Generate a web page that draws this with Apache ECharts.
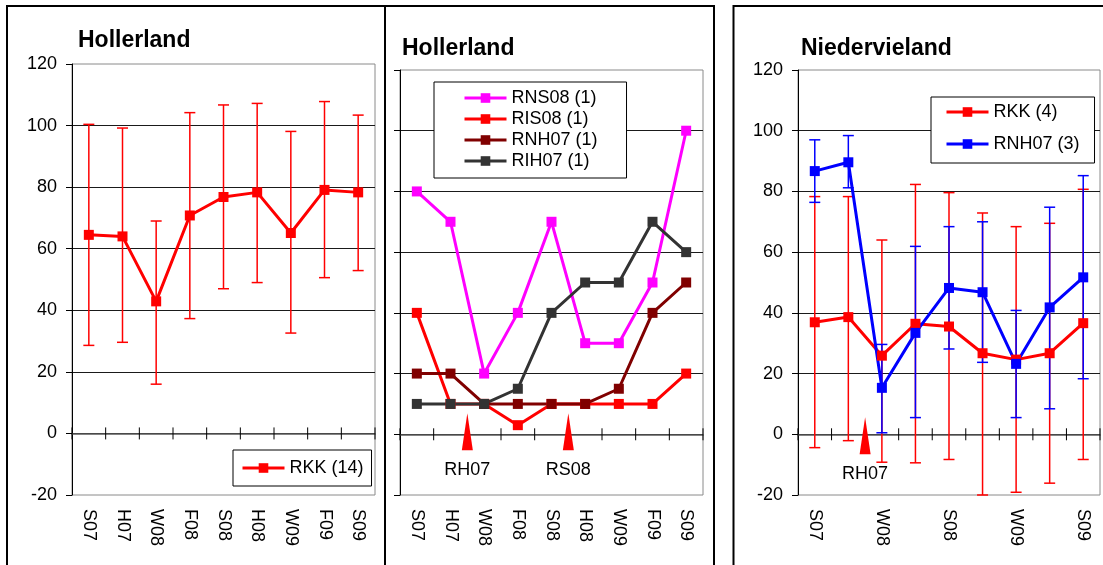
<!DOCTYPE html>
<html>
<head>
<meta charset="utf-8">
<script src="https://cdn.jsdelivr.net/npm/echarts@6/dist/echarts.min.js"></script>
<style>
  html, body { margin: 0; padding: 0; background: #fff; }
  #chart { width: 1103px; height: 565px; }
</style>
</head>
<body>
<div id="chart"></div>
<script>
// Sampling seasons (x categories)
const categories = ['S07', 'H07', 'W08', 'F08', 'S08', 'H08', 'W09', 'F09', 'S09'];

// Hollerland, RKK (14): mean with error range
const rkkHoll     = [64.5, 64.0, 42.9, 70.8, 76.8, 78.3, 65.1, 79.1, 78.3];
const rkkHollLow  = [28.6, 29.6, 16.0, 37.3, 47.0, 49.0, 32.6, 50.6, 52.9];
const rkkHollHigh = [100.4, 99.2, 69.0, 104.2, 106.7, 107.2, 98.1, 107.8, 103.4];

// Hollerland, single plots
const rns08 = [80, 70, 20, 40, 70, 30, 30, 50, 100];
const ris08 = [40, 10, 10, 3, 10, 10, 10, 10, 20];
const rnh07 = [20, 20, 10, 10, 10, 10, 15, 40, 50];
const rih07 = [10, 10, 10, 15, 40, 50, 50, 70, 60];

// Niedervieland, RKK (4) and RNH07 (3)
const rkkNied     = [36.9, 38.6, 25.9, 36.4, 35.5, 26.7, 24.6, 26.7, 36.6];
const rkkNiedLow  = [-4.4, -2.1, -9.2, -9.4, -8.3, -20.0, -19.1, -16.1, -8.3];
const rkkNiedHigh = [78.3, 78.3, 64.0, 82.3, 79.6, 72.9, 68.4, 69.5, 80.7];
const rnhNied     = [86.7, 89.6, 15.3, 33.4, 48.2, 46.8, 23.2, 41.8, 51.7];
const rnhNiedLow  = [76.4, 81.2, 0.5, 5.5, 28.1, 23.7, 5.5, 8.4, 18.3];
const rnhNiedHigh = [97.0, 98.4, 29.6, 61.9, 68.4, 70.0, 40.8, 74.8, 85.2];

// Y axis scale
const yMin = -20, yMax = 120, yStep = 20;

// Event markers: placed right after the given season
const hollEvents = [{ after: 'H07', text: 'RH07' }, { after: 'S08', text: 'RS08' }];
const niedEvents = [{ after: 'H07', text: 'RH07' }];

const titles = ['Hollerland', 'Hollerland', 'Niedervieland'];

const FONT = '"Liberation Sans", Arial, sans-serif';

const grids = [
  { left: 72,  top: 64, width: 303, height: 431 },
  { left: 400, top: 70, width: 303, height: 425 },
  { left: 798, top: 70, width: 302, height: 425 }
];

const xAxes = [];
const yAxes = [];
grids.forEach((g, i) => {
  // category labels along the bottom of the plot
  xAxes.push({
    type: 'category', gridIndex: i, data: categories, position: 'bottom',
    axisLine: { show: false, onZero: false },
    axisTick: { show: false },
    axisLabel: { rotate: -90, fontSize: 18, color: '#000', fontFamily: FONT, margin: 14, interval: i === 2 ? 1 : 0 },
    splitLine: { show: false }
  });
  // baseline at zero
  xAxes.push({
    type: 'category', gridIndex: i, data: categories,
    axisLine: { show: true, onZero: true, lineStyle: { color: '#595959', width: 1.5 } },
    axisTick: { show: false },
    axisLabel: { show: false },
    splitLine: { show: false }
  });
  yAxes.push({
    type: 'value', gridIndex: i, min: yMin, max: yMax, interval: yStep,
    axisLine: { show: true, onZero: false, lineStyle: { color: '#000', width: 1 } },
    axisTick: { show: true, length: 6, lineStyle: { color: '#000', width: 1 } },
    axisLabel: { show: i !== 1, fontSize: 18, color: '#000', fontFamily: FONT, margin: 15 },
    splitLine: { show: true, showMinLine: false, showMaxLine: false, lineStyle: { color: '#1a1a1a', width: 1 } }
  });
});

function lineSeries(name, values, color, g) {
  return {
    type: 'line', name, xAxisIndex: g * 2, yAxisIndex: g, data: values,
    symbol: 'rect', symbolSize: 10,
    lineStyle: { color, width: 3 }, itemStyle: { color },
    z: 3, animation: false, emphasis: { disabled: true }
  };
}

function errorSeries(low, high, color, g) {
  return {
    type: 'custom', xAxisIndex: g * 2, yAxisIndex: g, z: 2, animation: false, silent: true,
    data: categories.map((c, i) => [i, low[i], high[i]]),
    encode: { x: 0, y: [1, 2] },
    renderItem(params, api) {
      const x = api.value(0);
      const lo = api.coord([x, api.value(1)]);
      const hi = api.coord([x, api.value(2)]);
      const cap = 5.5;
      const st = { stroke: color, lineWidth: 1.5 };
      return {
        type: 'group', children: [
          { type: 'line', shape: { x1: lo[0], y1: lo[1], x2: hi[0], y2: hi[1] }, style: st },
          { type: 'line', shape: { x1: lo[0] - cap, y1: lo[1], x2: lo[0] + cap, y2: lo[1] }, style: st },
          { type: 'line', shape: { x1: hi[0] - cap, y1: hi[1], x2: hi[0] + cap, y2: hi[1] }, style: st }
        ]
      };
    }
  };
}

// Cross tick marks on the zero baseline at category boundaries
function tickSeries(g) {
  return {
    type: 'custom', xAxisIndex: g * 2, yAxisIndex: g, z: 4, animation: false, silent: true,
    data: categories.map((c, i) => [i, 0]),
    renderItem(params, api) {
      const i = api.value(0);
      const c = api.coord([i, 0]);
      const half = api.size([1, 0])[0] / 2;
      const xs = [c[0] - half];
      if (i === categories.length - 1) xs.push(c[0] + half);
      return {
        type: 'group',
        children: xs.map(x => ({
          type: 'line', shape: { x1: x, y1: c[1] - 6, x2: x, y2: c[1] + 6 },
          style: { stroke: '#000', lineWidth: 1 }
        }))
      };
    }
  };
}

// Red event arrows with a caption below
function eventSeries(events, g, tipUp, baseDown, textDown) {
  return {
    type: 'custom', xAxisIndex: g * 2, yAxisIndex: g, z: 5, animation: false, silent: true,
    data: events.map(e => [categories.indexOf(e.after), 0]),
    renderItem(params, api) {
      const c = api.coord([api.value(0), 0]);
      const x = c[0] + api.size([1, 0])[0] / 2;
      const y = c[1];
      const ev = events[params.dataIndex];
      return {
        type: 'group', children: [
          { type: 'polygon', shape: { points: [[x, y - tipUp], [x - 5.5, y + baseDown], [x + 5.5, y + baseDown]] },
            style: { fill: '#ff0000' } },
          { type: 'text', style: { text: ev.text, x: x, y: y + textDown, fill: '#000',
            font: '18px ' + FONT, align: 'center', verticalAlign: 'middle' } }
        ]
      };
    }
  };
}

const legendBase = {
  orient: 'vertical', backgroundColor: '#fff', borderColor: '#000', borderWidth: 1,
  itemWidth: 42, itemHeight: 12, selectedMode: false,
  lineStyle: { width: 3 },
  textStyle: { fontSize: 18, color: '#000', fontFamily: FONT }
};

const option = {
  animation: false,
  tooltip: { show: false },
  title: [
    { text: titles[0], left: 78, top: 29 },
    { text: titles[1], left: 402, top: 37 },
    { text: titles[2], left: 801, top: 37 }
  ].map(t => Object.assign(t, { padding: 0, textStyle: { fontSize: 23, fontWeight: 'bold', color: '#000', fontFamily: FONT } })),
  grid: grids.map(g => Object.assign({}, g, { show: true, borderColor: '#8a8a8a', borderWidth: 1, backgroundColor: 'transparent' })),
  xAxis: xAxes,
  yAxis: yAxes,
  legend: [
    Object.assign({}, legendBase, { data: ['RKK (14)'], left: 233, top: 450, padding: [9, 8, 9, 8] }),
    Object.assign({}, legendBase, { data: ['RNS08 (1)', 'RIS08 (1)', 'RNH07 (1)', 'RIH07 (1)'], left: 434, top: 82, padding: [7, 29, 8, 29], itemGap: 3 }),
    Object.assign({}, legendBase, { data: ['RKK (4)', 'RNH07 (3)'], left: 931, top: 97, padding: [6, 15, 10, 14], itemGap: 14 })
  ],
  graphic: [
    { type: 'rect', silent: true, z: 10, shape: { x: 7, y: 6, width: 378, height: 600 }, style: { fill: 'none', stroke: '#000', lineWidth: 2 } },
    { type: 'rect', silent: true, z: 10, shape: { x: 385, y: 6, width: 329, height: 600 }, style: { fill: 'none', stroke: '#000', lineWidth: 2 } },
    { type: 'rect', silent: true, z: 10, shape: { x: 733.5, y: 6, width: 400, height: 600 }, style: { fill: 'none', stroke: '#000', lineWidth: 2 } }
  ],
  series: [
    // Hollerland (RKK)
    errorSeries(rkkHollLow, rkkHollHigh, '#ff0000', 0),
    lineSeries('RKK (14)', rkkHoll, '#ff0000', 0),
    tickSeries(0),
    // Hollerland (single plots)
    lineSeries('RNS08 (1)', rns08, '#ff00ff', 1),
    lineSeries('RIS08 (1)', ris08, '#ff0000', 1),
    lineSeries('RNH07 (1)', rnh07, '#800000', 1),
    lineSeries('RIH07 (1)', rih07, '#333333', 1),
    tickSeries(1),
    eventSeries(hollEvents, 1, 21, 16, 36),
    // Niedervieland
    errorSeries(rkkNiedLow, rkkNiedHigh, '#ff0000', 2),
    errorSeries(rnhNiedLow, rnhNiedHigh, '#0000ff', 2),
    lineSeries('RKK (4)', rkkNied, '#ff0000', 2),
    lineSeries('RNH07 (3)', rnhNied, '#0000ff', 2),
    tickSeries(2),
    eventSeries(niedEvents, 2, 17, 20, 40)
  ]
};

const chart = echarts.init(document.getElementById('chart'), null, { renderer: 'canvas' });
chart.setOption(option);
</script>
</body>
</html>
